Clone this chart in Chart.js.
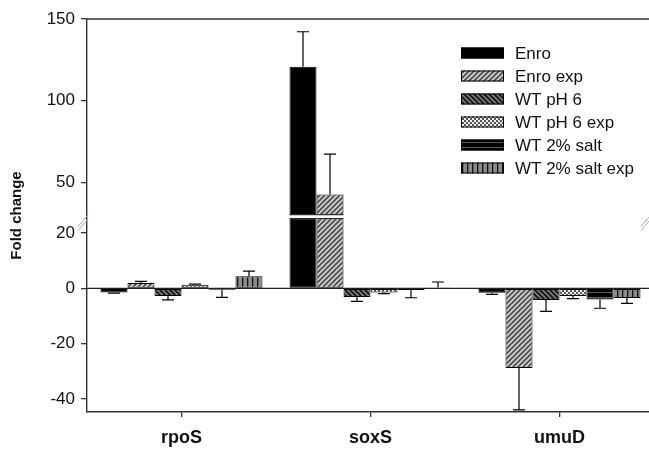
<!DOCTYPE html>
<html>
<head>
<meta charset="utf-8">
<script src="https://cdn.jsdelivr.net/npm/chart.js@4/dist/chart.umd.min.js"></script>
<style>
  html, body { margin: 0; padding: 0; background: #fff; overflow: hidden; }
  #wrap { width: 660px; height: 449px; position: relative; }
</style>
</head>
<body>
<div id="wrap"><canvas id="c"></canvas></div>
<script>
// data
const categories = ['rpoS', 'soxS', 'umuD'];
const seriesNames = ['Enro', 'Enro exp', 'WT pH 6', 'WT pH 6 exp', 'WT 2% salt', 'WT 2% salt exp'];
const enro      = [-1.5, 120.7, -1.6];
const enroErr   = [0.2, 21.5, 0.6];
const enroExp   = [1.9, 42.5, -28.8];
const enroExpErr = [0.6, 24.7, 15.1];
const ph6       = [-2.8, -3.1, -4.2];
const ph6Err    = [1.4, 1.6, 4.1];
const ph6Exp    = [1.3, -1.5, -2.8];
const ph6ExpErr = [0.2, 0.4, 0.9];
const salt      = [-0.5, -0.6, -4.0];
const saltErr   = [2.8, 2.8, 3.2];
const saltExp   = [4.4, 0.3, -3.5];
const saltExpErr = [1.8, 2.0, 1.9];
const yTicks = [-40, -20, 0, 20, 50, 100, 150];

// broken axis: lower part 1:1, upper part compressed
const BREAK_LO = 25, BREAK_HI = 30.4, GAP = 1.8, K = 0.59;
function toD(v) {
  if (v <= BREAK_LO) return v;
  if (v >= BREAK_HI) return BREAK_LO + GAP + (v - BREAK_HI) * K;
  return BREAK_LO + (v - BREAK_LO) * GAP / (BREAK_HI - BREAK_LO);
}

const ctx = document.getElementById('c').getContext('2d');

function pat(size, bg, draw) {
  const c = document.createElement('canvas');
  c.width = c.height = size;
  const g = c.getContext('2d');
  g.fillStyle = bg;
  g.fillRect(0, 0, size, size);
  draw(g, size);
  return ctx.createPattern(c, 'repeat');
}
function diag(g, s, col, back) {
  g.strokeStyle = col; g.lineWidth = 1.6;
  const lines = back
    ? [[0, 0, s, s], [-1, s - 1, 1, s + 1], [s - 1, -1, s + 1, 1]]
    : [[0, s, s, 0], [-1, 1, 1, -1], [s - 1, s + 1, s + 1, s - 1]];
  lines.forEach(l => { g.beginPath(); g.moveTo(l[0], l[1]); g.lineTo(l[2], l[3]); g.stroke(); });
}

const fills = [
  '#000000',
  pat(5, '#cfcfcf', (g, s) => diag(g, s, '#4a4a4a', false)),
  pat(5, '#7a7a7a', (g, s) => diag(g, s, '#111', true)),
  pat(4, '#eeeeee', (g, s) => { g.fillStyle = '#555'; g.fillRect(0, 0, 2, 2); g.fillRect(2, 2, 2, 2); }),
  pat(5, '#000000', (g, s) => { g.fillStyle = '#5a5a5a'; g.fillRect(0, 2, s, 1); }),
  pat(5, '#8a8a8a', (g, s) => { g.fillStyle = '#111'; g.fillRect(2, 0, 1.3, s); })
];

const values = [enro, enroExp, ph6, ph6Exp, salt, saltExp];
const errors = [enroErr, enroExpErr, ph6Err, ph6ExpErr, saltErr, saltExpErr];

const extras = {
  id: 'extras',
  beforeDatasetsDraw(chart) {
    const { ctx: g, chartArea: a, scales: { y } } = chart;
    const y0 = y.getPixelForValue(0);
    g.save();
    g.strokeStyle = '#222'; g.lineWidth = 1.3;
    g.beginPath(); g.moveTo(a.left, y0); g.lineTo(chart.width, y0); g.stroke();
    g.restore();
  },
  afterDatasetsDraw(chart) {
    const { ctx: g, chartArea: a, scales: { y } } = chart;
    g.save();
    // gap of the broken axis
    const yb1 = y.getPixelForValue(BREAK_LO), yb2 = y.getPixelForValue(BREAK_LO + GAP);
    g.fillStyle = '#fff';
    g.fillRect(a.left + 1, yb2, chart.width, yb1 - yb2);
    g.strokeStyle = '#000'; g.lineWidth = 1;
    chart.data.datasets.forEach((ds, i) => {
      chart.getDatasetMeta(i).data.forEach((bar, j) => {
        if (values[i][j] > BREAK_HI) {
          const l = bar.x - bar.width / 2, r = bar.x + bar.width / 2;
          g.beginPath();
          g.moveTo(l, yb1 - 0.5); g.lineTo(r, yb1 - 0.5);
          g.moveTo(l, yb2 + 0.5); g.lineTo(r, yb2 + 0.5);
          g.stroke();
        }
      });
    });
    // error bars, one sided
    g.strokeStyle = '#000'; g.lineWidth = 1.2;
    chart.data.datasets.forEach((ds, i) => {
      chart.getDatasetMeta(i).data.forEach((bar, j) => {
        const v = values[i][j], e = errors[i][j];
        const end = v >= 0 ? v + e : v - e;
        const yv = y.getPixelForValue(toD(v)), ye = y.getPixelForValue(toD(end));
        g.beginPath();
        g.moveTo(bar.x, yv); g.lineTo(bar.x, ye);
        g.moveTo(bar.x - 6, ye); g.lineTo(bar.x + 6, ye);
        g.stroke();
      });
    });
    // top frame line
    g.strokeStyle = '#333'; g.lineWidth = 1.4;
    g.beginPath(); g.moveTo(a.left, a.top); g.lineTo(chart.width, a.top); g.stroke();
    // break marks
    g.strokeStyle = '#aaa'; g.lineWidth = 1;
    const ym = (yb1 + yb2) / 2 + 4;
    [a.left - 9, a.right - 13].forEach(x => {
      [0, 4].forEach(off => {
        g.beginPath(); g.moveTo(x, ym + 6 + off); g.lineTo(x + 10, ym - 6 + off); g.stroke();
      });
    });
    // legend
    g.font = '17px Arial, "Liberation Sans", sans-serif';
    g.textBaseline = 'middle';
    chart.data.datasets.forEach((ds, i) => {
      const cy = 53 + i * 23;
      g.fillStyle = ds.backgroundColor;
      g.fillRect(461, cy - 5.5, 43, 11);
      g.strokeStyle = '#000'; g.lineWidth = 1;
      g.strokeRect(461.5, cy - 5, 42, 10);
      g.fillStyle = '#111';
      g.fillText(ds.label, 515, cy + 1);
    });
    g.restore();
  }
};

new Chart(ctx, {
  type: 'bar',
  data: {
    labels: categories,
    datasets: seriesNames.map((name, i) => ({
      label: name,
      data: values[i].map(toD),
      backgroundColor: fills[i],
      borderColor: '#000',
      borderWidth: 1,
      borderSkipped: false,
      categoryPercentage: 0.857,
      barPercentage: 1.0
    }))
  },
  options: {
    responsive: true,
    maintainAspectRatio: false,
    animation: false,
    layout: { padding: { top: 19, right: 6, left: 0, bottom: 0 } },
    plugins: { legend: { display: false }, tooltip: { enabled: false } },
    scales: {
      x: {
        offset: true,
        grid: { display: true, drawOnChartArea: false, offset: false, tickLength: 5, color: '#333', lineWidth: 1.3 },
        border: { display: true, color: '#333', width: 1.4 },
        ticks: { color: '#111', padding: 10, font: { family: 'Arial, "Liberation Sans", sans-serif', size: 18, weight: 'bold' } },
        afterFit(s) { s.height = 37; }
      },
      y: {
        min: toD(-44.7),
        max: toD(150),
        afterBuildTicks(s) { s.ticks = yTicks.map(v => ({ value: toD(v) })); },
        grid: { display: true, drawOnChartArea: false, tickLength: 6, color: '#333', lineWidth: 1.3 },
        border: { display: true, color: '#333', width: 1.4 },
        ticks: {
          color: '#111', padding: 6, autoSkip: false,
          font: { family: 'Arial, "Liberation Sans", sans-serif', size: 17 },
          callback: (val, idx) => String(yTicks[idx])
        },
        title: {
          display: true, text: 'Fold change', color: '#111',
          padding: { top: 8, bottom: 0 },
          font: { family: 'Arial, "Liberation Sans", sans-serif', size: 15, weight: 'bold' }
        },
        afterFit(s) { s.width = 87; }
      }
    }
  },
  plugins: [extras]
});
</script>
</body>
</html>
